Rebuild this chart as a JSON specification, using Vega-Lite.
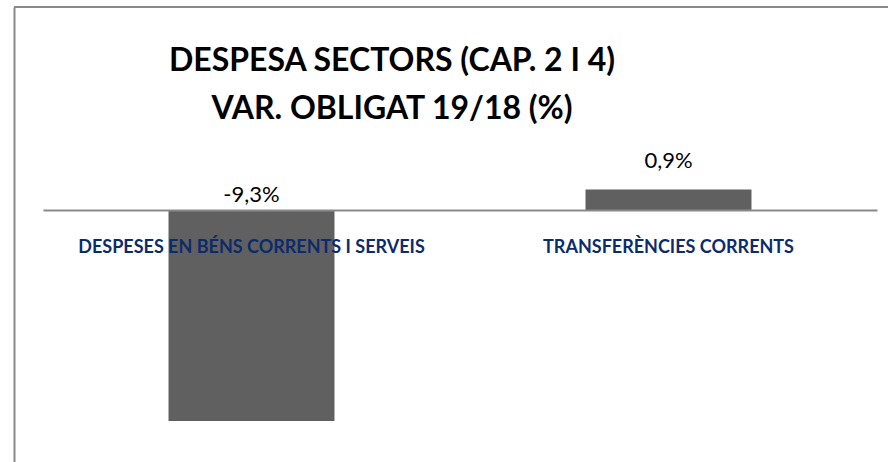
{
  "$schema": "https://vega.github.io/schema/vega-lite/v6.json",
  "width": 874,
  "height": 455,
  "autosize": {"type": "none"},
  "padding": {"left": 14, "top": 7, "right": 0, "bottom": 0},
  "background": "white",
  "config": {
    "view": {"stroke": null},
    "font": "Lato",
    "locale": {"number": {"decimal": ",", "thousands": ".", "grouping": [3], "currency": ["", " €"], "minus": "-"}}
  },
  "title": {
    "text": ["DESPESA SECTORS (CAP. 2 I 4)", "VAR. OBLIGAT 19/18 (%)"],
    "font": "Lato",
    "fontSize": 32,
    "fontWeight": "bold",
    "color": "black",
    "lineHeight": 48,
    "anchor": "middle",
    "baseline": "bottom",
    "offset": -152,
    "dx": -59
  },
  "data": {
    "values": [
      {"concepte": "DESPESES EN BÉNS CORRENTS I SERVEIS", "variacio": -0.093},
      {"concepte": "TRANSFERÈNCIES CORRENTS", "variacio": 0.009}
    ]
  },
  "encoding": {
    "y": {
      "field": "variacio",
      "type": "quantitative",
      "scale": {"domain": [-0.11101, 0.08943], "nice": false, "zero": false},
      "axis": {
        "orient": "left",
        "domain": true,
        "domainColor": "#898989",
        "domainWidth": 2,
        "labels": false,
        "ticks": false,
        "grid": false,
        "title": null
      }
    }
  },
  "layer": [
    {
      "mark": {"type": "bar", "color": "#606060"},
      "encoding": {
        "x": {
          "field": "concepte",
          "type": "nominal",
          "sort": null,
          "scale": {"range": [29, 863], "paddingInner": 0.602, "paddingOuter": 0.301},
          "axis": {
            "orient": "bottom",
            "offset": -252,
            "domain": true,
            "domainColor": "#898989",
            "domainWidth": 2,
            "ticks": false,
            "tickSize": 0,
            "grid": false,
            "labelAngle": 0,
            "labelFont": "Lato",
            "labelFontSize": 18,
            "labelFontWeight": "bold",
            "labelColor": "#0D2B6B",
            "labelPadding": 42,
            "labelBaseline": "alphabetic",
            "labelLimit": 0,
            "title": null,
            "zindex": 1
          }
        }
      }
    },
    {
      "transform": [{"filter": "datum.variacio < 0"}],
      "mark": {"type": "text", "baseline": "alphabetic", "dy": -8, "fontSize": 22, "font": "Lato", "color": "black"},
      "encoding": {
        "x": {"field": "concepte", "type": "nominal", "sort": null},
        "y": {"datum": 0},
        "text": {"field": "variacio", "type": "quantitative", "format": ".1%"}
      }
    },
    {
      "transform": [{"filter": "datum.variacio >= 0"}],
      "mark": {"type": "text", "baseline": "alphabetic", "dy": -22, "fontSize": 22, "font": "Lato", "color": "black"},
      "encoding": {
        "x": {"field": "concepte", "type": "nominal", "sort": null},
        "text": {"field": "variacio", "type": "quantitative", "format": ".1%"}
      }
    },
    {
      "mark": {"type": "rule", "color": "#898989", "strokeWidth": 2},
      "encoding": {"y": {"datum": 0.08943}}
    }
  ]
}
